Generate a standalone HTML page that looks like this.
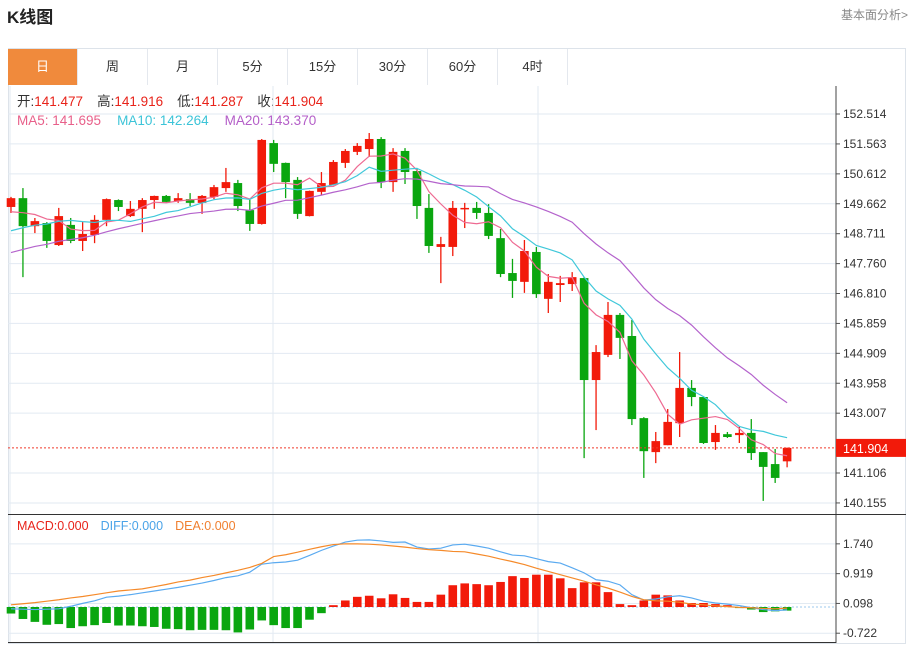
<!DOCTYPE html>
<html><head><meta charset="utf-8"><style>
body{margin:0;background:#fff;font-family:"Liberation Sans","Noto Sans CJK SC",sans-serif;}
#wrap{position:relative;width:914px;height:646px;overflow:hidden;}
.title{position:absolute;left:7px;top:3px;font-size:17px;font-weight:bold;color:#222;}
.more{position:absolute;right:6px;top:6px;font-size:12px;color:#888;}
.panel{position:absolute;left:8px;top:48px;width:898px;height:596px;border:1px solid #dde3ea;box-sizing:border-box;}
.tabs{position:absolute;left:8px;top:49px;height:36px;display:flex;}
.tab{width:69px;height:36px;line-height:36px;text-align:center;font-size:13px;color:#333;border-right:1px solid #e4e8ee;}
.tab.on{background:#f08a3c;color:#fff;}
svg{position:absolute;left:0;top:0;}
</style></head><body><div id="wrap">
<div class="title">K线图</div>
<div class="more">基本面分析&gt;</div>
<div class="panel"></div>
<div class="tabs">
<div class="tab on">日</div>
<div class="tab">周</div>
<div class="tab">月</div>
<div class="tab">5分</div>
<div class="tab">15分</div>
<div class="tab">30分</div>
<div class="tab">60分</div>
<div class="tab">4时</div>
</div>
<svg id="chart" width="914" height="646">
<text x="17" y="106" font-size="13.5"><tspan fill="#333">开:</tspan><tspan fill="#e8231a">141.477</tspan><tspan fill="#333" dx="14">高:</tspan><tspan fill="#e8231a">141.916</tspan><tspan fill="#333" dx="14">低:</tspan><tspan fill="#e8231a">141.287</tspan><tspan fill="#333" dx="14">收:</tspan><tspan fill="#e8231a">141.904</tspan></text>
<text x="17" y="125" font-size="13.5"><tspan fill="#e8608a">MA5: 141.695</tspan><tspan fill="#3cc4d8" dx="16">MA10: 142.264</tspan><tspan fill="#b45ec8" dx="16">MA20: 143.370</tspan></text>
<text x="17" y="530" font-size="12.5"><tspan fill="#e8231a">MACD:0.000</tspan><tspan fill="#4aa3e8" dx="12">DIFF:0.000</tspan><tspan fill="#f08030" dx="12">DEA:0.000</tspan></text>
</svg>
</div>
<script>
const openP=[149.56,149.84,148.95,149.05,148.35,148.99,148.48,148.67,149.15,149.78,149.27,149.50,149.78,149.91,149.75,149.81,149.69,149.88,150.16,150.32,149.46,149.02,151.59,150.96,150.42,149.27,150.04,150.26,150.96,151.31,151.40,151.72,150.35,151.34,150.70,149.53,148.29,148.29,149.50,149.53,149.37,148.57,147.46,147.18,148.13,146.64,147.08,147.11,147.30,144.06,144.86,146.13,145.46,142.85,141.77,141.99,142.69,143.81,143.52,142.09,142.34,142.31,142.38,141.77,141.39,141.477];
const closeP=[149.84,148.95,149.11,148.48,149.27,148.48,148.70,149.15,149.81,149.56,149.50,149.78,149.91,149.72,149.84,149.69,149.91,150.19,150.35,149.59,149.02,151.69,150.93,150.35,149.34,150.07,150.32,150.99,151.34,151.50,151.72,150.35,151.31,150.67,149.59,148.32,148.38,149.53,149.53,149.37,148.64,147.43,147.21,148.16,146.79,147.18,147.14,147.33,144.06,144.95,146.13,145.40,142.82,141.80,142.12,142.73,143.81,143.52,142.06,142.38,142.25,142.38,141.74,141.30,140.95,141.904];
const highP=[149.88,150.16,149.21,149.08,149.53,149.21,149.08,149.30,149.83,149.80,149.75,149.84,149.92,149.94,150.00,150.00,149.94,150.26,150.80,150.42,149.81,151.72,151.69,150.97,150.51,150.08,150.67,151.05,151.40,151.59,151.91,151.78,151.43,151.43,150.77,149.97,148.61,149.75,149.69,149.72,149.65,148.86,147.91,148.51,148.29,147.43,147.37,147.49,147.33,145.17,146.54,146.19,145.97,142.88,142.41,143.14,144.95,144.06,143.52,142.63,142.41,142.57,142.82,141.77,141.87,141.916];
const lowP=[149.37,147.33,148.73,148.26,148.32,148.41,148.16,148.41,148.95,149.43,149.24,148.76,149.50,149.69,149.69,149.59,149.34,149.81,150.04,149.43,148.80,149.00,150.67,149.84,149.18,149.26,149.94,150.25,150.80,151.21,151.15,150.16,150.04,150.29,149.18,148.10,147.14,148.00,148.89,149.18,148.54,147.33,146.67,146.83,146.67,146.19,146.54,146.89,141.58,142.47,144.79,144.73,142.63,140.95,141.42,141.99,142.25,143.23,142.03,141.84,142.22,142.06,141.52,140.22,140.79,141.287];
const priorCloses=[147.0,147.2,147.1,147.4,147.3,147.6,147.5,147.7,147.6,147.8,148.0,148.3,148.1,148.4,148.2,149.1,149.4,149.2,149.5];
const priceTicks=[152.514,151.563,150.612,149.662,148.711,147.760,146.810,145.859,144.909,143.958,143.007,141.106,140.155];
const macdHist=[-0.18,-0.33,-0.41,-0.49,-0.47,-0.58,-0.53,-0.50,-0.44,-0.51,-0.51,-0.53,-0.55,-0.60,-0.61,-0.64,-0.63,-0.63,-0.64,-0.70,-0.62,-0.37,-0.50,-0.58,-0.58,-0.35,-0.17,0.05,0.18,0.28,0.31,0.24,0.35,0.25,0.14,0.14,0.34,0.60,0.65,0.63,0.60,0.69,0.85,0.80,0.89,0.89,0.79,0.52,0.68,0.68,0.41,0.08,0.05,0.18,0.34,0.32,0.18,0.11,0.11,0.08,0.05,-0.03,-0.07,-0.14,-0.12,-0.10];
const diffV=[-0.05,-0.06,-0.07,-0.06,-0.05,0.02,0.10,0.17,0.27,0.30,0.34,0.39,0.44,0.49,0.54,0.60,0.66,0.73,0.81,0.86,0.96,1.18,1.22,1.24,1.29,1.42,1.56,1.68,1.79,1.84,1.85,1.82,1.78,1.79,1.65,1.60,1.62,1.71,1.73,1.68,1.62,1.52,1.43,1.41,1.33,1.25,1.21,1.08,0.94,0.75,0.71,0.61,0.34,0.19,0.22,0.28,0.31,0.25,0.16,0.11,0.08,0.04,-0.02,-0.07,-0.10,-0.08];
const deaV=[0.06,0.09,0.12,0.16,0.20,0.25,0.29,0.34,0.39,0.44,0.47,0.50,0.56,0.62,0.69,0.74,0.81,0.87,0.94,1.01,1.09,1.20,1.39,1.44,1.51,1.59,1.66,1.72,1.74,1.74,1.73,1.71,1.68,1.65,1.61,1.58,1.56,1.53,1.52,1.46,1.40,1.32,1.25,1.17,1.07,0.98,0.89,0.80,0.71,0.61,0.52,0.41,0.29,0.20,0.17,0.16,0.13,0.08,0.06,0.03,0.01,-0.01,-0.02,-0.04,-0.05,-0.03];
const macdTicks=[1.740,0.919,0.098,-0.722];
const lastPrice=141.904;

const NS="http://www.w3.org/2000/svg";
const svg=document.getElementById('chart');
const X0=11, DX=11.94, PL=8, PR=836;
const xOf=i=>X0+i*DX;
const yP=p=>114+(152.514-p)*31.47;
const yM=v=>607-v*36.3;
function mk(tag,attrs,parent){const e=document.createElementNS(NS,tag);for(const k in attrs)e.setAttribute(k,attrs[k]);(parent||svg).appendChild(e);return e;}
const RED="#f21a0a",GREEN="#0aa60f";
const grid=mk('g',{});


priceTicks.forEach(t=>{
  const y=yP(t);
  mk('line',{x1:PL,x2:PR,y1:y,y2:y,stroke:'#e2eaf2','stroke-width':1},grid);
  mk('line',{x1:PR,x2:PR+4,y1:y,y2:y,stroke:'#555'},grid);
  const tx=mk('text',{x:843,y:y+4,'font-size':12,fill:'#333'},grid);
  tx.textContent=t.toFixed(3);
  
  
});
[273,538].forEach(x=>{
  mk('line',{x1:x,x2:x,y1:86,y2:642,stroke:'#e2eaf2'},grid);
});
mk('line',{x1:10,x2:10,y1:86,y2:642,stroke:'#e2eaf2'},grid);
macdTicks.forEach(t=>{
  const y=yM(t);
  mk('line',{x1:PL,x2:PR,y1:y,y2:y,stroke:'#e2eaf2'},grid);
  mk('line',{x1:PR,x2:PR+4,y1:y,y2:y,stroke:'#555'},grid);
  const tx=mk('text',{x:843,y:y+4,'font-size':12,fill:'#333'},grid);
  tx.textContent=t.toFixed(3);
  
  
});
mk('line',{x1:PR,x2:PR,y1:86,y2:643,stroke:'#444'});
mk('line',{x1:PL,x2:906,y1:514.5,y2:514.5,stroke:'#333'});
mk('line',{x1:PL,x2:PR,y1:642.5,y2:642.5,stroke:'#333'});
mk('line',{x1:PL,x2:PR,y1:yM(0),y2:yM(0),stroke:'#9cc8ee','stroke-dasharray':'2,2'});
const cg=mk('g',{});


openP.forEach((o,i)=>{
  const c=closeP[i],x=xOf(i),col=c>=o?RED:GREEN;
  const g=mk('g',{},cg);
  
  
  mk('line',{x1:x,x2:x,y1:yP(highP[i]),y2:yP(lowP[i]),stroke:col,'stroke-width':1.3},g);
  const top=yP(Math.max(o,c)),h=Math.max(1.5,Math.abs(yP(o)-yP(c)));
  mk('rect',{x:x-4.3,y:top,width:8.6,height:h,fill:col},g);
});
const all=priorCloses.concat(closeP);
function ma(n){return closeP.map((_,i)=>{const j=i+priorCloses.length;let s=0;for(let k=j-n+1;k<=j;k++)s+=all[k];return s/n;});}
[[5,'#ee6a92','ma5-line'],[10,'#40c8da','ma10-line'],[20,'#b463cc','ma20-line']].forEach(([n,col,name])=>{
  const v=ma(n);
  const p=mk('polyline',{points:v.map((m,i)=>xOf(i)+','+yP(m)).join(' '),fill:'none',stroke:col,'stroke-width':1.2});
  
  
});
const ly=yP(lastPrice);
const ll=mk('line',{x1:PL,x2:PR,y1:ly,y2:ly,stroke:'#f03a2a','stroke-dasharray':'2,2'});


const lb=mk('rect',{x:PR,y:ly-9,width:70,height:18,fill:'#f21a0a'});


const lt=mk('text',{x:843,y:ly+5,'font-size':12.5,fill:'#fff'});
lt.textContent=lastPrice.toFixed(3);


const mg=mk('g',{});


macdHist.forEach((v,i)=>{
  const y0=yM(0),y1=yM(v);
  const r=mk('rect',{x:xOf(i)-4.3,y:Math.min(y0,y1),width:8.6,height:Math.max(1,Math.abs(y1-y0)),fill:v>=0?RED:GREEN},mg);
  
  
});
[[diffV,'#5aaaf0','diff-line'],[deaV,'#f58a2a','dea-line']].forEach(([arr,col,name])=>{
  const p=mk('polyline',{points:arr.map((v,i)=>xOf(i)+','+yM(v)).join(' '),fill:'none',stroke:col,'stroke-width':1.2});
  
  
});
</script>
</body></html>
